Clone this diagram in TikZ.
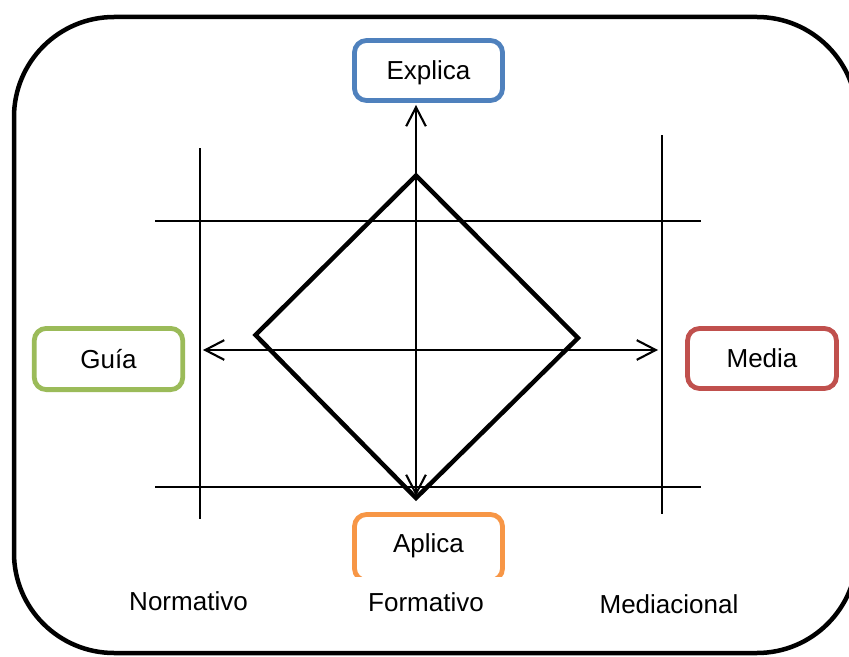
\documentclass[tikz,border=0pt]{standalone}
\usepackage{fontspec}
\setmainfont{Liberation Sans}
\usetikzlibrary{arrows.meta}
\definecolor{cblue}{HTML}{4F81BD}
\definecolor{cgreen}{HTML}{9BBB59}
\definecolor{cred}{HTML}{C0504D}
\definecolor{corange}{HTML}{F79646}
\tikzset{
  lbox/.style={draw=#1, line width=3.4pt, rounded corners=0.3cm, fill=white,
    inner sep=0pt, minimum width=3.7cm, minimum height=1.5cm,
    font=\fontsize{18.5pt}{22pt}\selectfont, text height=13.2pt, text depth=0pt},
  lbl/.style={anchor=base, inner sep=0pt, font=\fontsize{18.5pt}{22pt}\selectfont},
  guide/.style={line width=1.3pt},
  axis/.style={line width=1.5pt, {Straight Barb[length=13.5pt,width=14pt]}-{Straight Barb[length=13.5pt,width=14pt]}},
  thick frame/.style={line width=3.2pt},
}
\begin{document}
\begin{tikzpicture}[x=0.025cm,y=-0.025cm]
\useasboundingbox (0,0) rectangle (849,657);
\clip (0,0) rectangle (849,657);
% outer frame
\draw[thick frame, rounded corners=2.5cm] (14,17) rectangle (857,653);
% guide lines
\draw[guide] (200,148) -- (200,519);
\draw[guide] (662,135) -- (662,514);
\draw[guide] (155,221) -- (701,221);
\draw[guide] (155,487) -- (701,487);
% diamond
\coordinate (dt) at (416,175.5);
\coordinate (dl) at (255.5,335);
\coordinate (dr) at (578,338);
\coordinate (db) at (416,498);
\draw[thick frame, line join=miter] (dt) -- (dr) -- (db) -- (dl) -- cycle;
% boxes
\node[lbox=cblue] (explica) at (428.5,70.5) {Explica};
\node[lbox=cgreen, minimum width=3.71cm, minimum height=1.53cm] (guia) at (108.5,359) {Guía};
\node[lbox=cred, minimum width=3.72cm] (media) at (762,358.5) {Media};
\begin{scope}
\clip (0,0) rectangle (849,576);
\node[lbox=corange, minimum height=1.65cm, text depth=6.4pt] (aplica) at (428.5,547.5) {Aplica};
\end{scope}
% axes
\coordinate (vtop) at (416,105);
\coordinate (vbot) at (416,496);
\coordinate (hl) at (203,350);
\coordinate (hr) at (658,350);
\draw[axis] (vbot) -- (vtop);
\draw[axis] (hl) -- (hr);
% bottom labels
\node[lbl] (normativo) at (188.5,610) {Normativo};
\node[lbl] (formativo) at (426,611) {Formativo};
\node[lbl] (mediacional) at (669,613) {Mediacional};
\end{tikzpicture}
\end{document}
